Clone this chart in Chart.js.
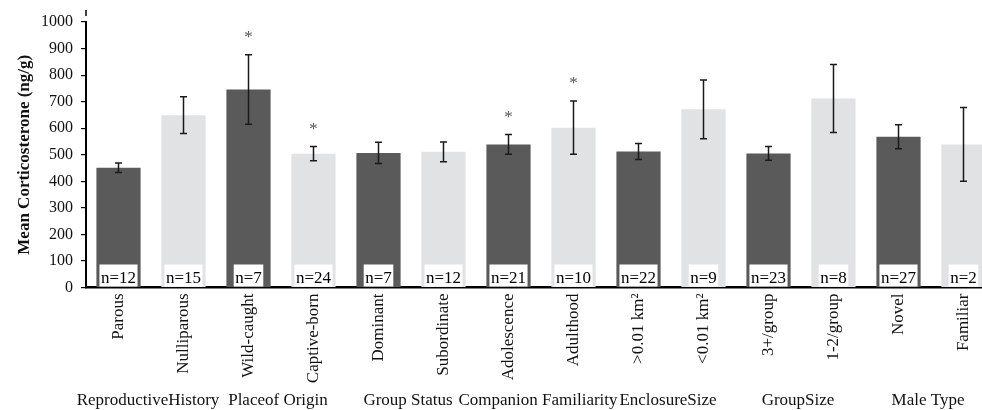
<!DOCTYPE html>
<html>
<head>
<meta charset="utf-8">
<script src="https://cdn.jsdelivr.net/npm/chart.js@4/dist/chart.umd.min.js"></script>
<style>
  html, body { margin: 0; padding: 0; background: #fff; overflow: hidden; }
  #wrap { position: absolute; left: 0; top: 0; width: 1000px; height: 410px; }
</style>
</head>
<body>
<div id="wrap"><canvas id="c" width="1000" height="410"></canvas></div>
<script>
// Mean faecal corticosterone by subgroup
const categories = ['Parous', 'Nulliparous', 'Wild-caught', 'Captive-born', 'Dominant', 'Subordinate',
  'Adolescence', 'Adulthood', '>0.01 km²', '<0.01 km²', '3+/group', '1-2/group', 'Novel', 'Familiar'];
const means = [451, 649, 746, 504, 507, 511, 539, 602, 512, 671, 505, 712, 568, 539];
const errors = [18, 69, 131, 27, 40, 37, 37, 100, 30, 111, 26, 128, 45, 139];
const sampleSizes = [12, 15, 7, 24, 7, 12, 21, 10, 22, 9, 23, 8, 27, 2];
const significant = [false, false, true, true, false, false, true, true, false, false, false, false, false, false];
const groupNames = ['ReproductiveHistory', 'Placeof Origin', 'Group Status', 'Companion Familiarity',
  'EnclosureSize', 'GroupSize', 'Male Type'];
const yTicks = [0, 100, 200, 300, 400, 500, 600, 700, 800, 900, 1000];

const SERIF = '"Liberation Serif", "Times New Roman", serif';
const DARK = '#5a5a5b';
const LIGHT = '#e1e2e4';

// error bars, significance stars, sample-size boxes and group captions
const annotations = {
  id: 'annotations',
  afterDatasetsDraw(chart) {
    const ctx = chart.ctx;
    const y = chart.scales.y;
    const x = chart.scales.x;
    const meta = chart.getDatasetMeta(0);
    ctx.save();
    meta.data.forEach((bar, i) => {
      const cx = bar.x;
      const top = y.getPixelForValue(means[i] + errors[i]);
      const bot = y.getPixelForValue(means[i] - errors[i]);
      ctx.strokeStyle = '#1a1a1a';
      ctx.lineWidth = 1.5;
      ctx.beginPath();
      ctx.moveTo(cx, top); ctx.lineTo(cx, bot);
      ctx.moveTo(cx - 3.5, top); ctx.lineTo(cx + 3.5, top);
      ctx.moveTo(cx - 3.5, bot); ctx.lineTo(cx + 3.5, bot);
      ctx.stroke();

      if (significant[i]) {
        ctx.fillStyle = '#555';
        ctx.font = '17px ' + SERIF;
        ctx.textAlign = 'center';
        ctx.textBaseline = 'alphabetic';
        ctx.fillText('*', cx, top - 13);
      }

      // sample size box at the foot of the bar
      const label = 'n=' + sampleSizes[i];
      ctx.font = '17px ' + SERIF;
      const w = ctx.measureText(label).width + 3;
      const base = y.getPixelForValue(0);
      ctx.fillStyle = '#fff';
      ctx.fillRect(cx - w / 2, base - 23, w, 22);
      ctx.fillStyle = '#000';
      ctx.textAlign = 'center';
      ctx.textBaseline = 'alphabetic';
      ctx.fillText(label, cx, base - 5);
    });

    // short stub of the value axis above its top tick
    const ax = chart.chartArea.left;
    ctx.strokeStyle = '#000';
    ctx.lineWidth = 1.5;
    ctx.beginPath();
    ctx.moveTo(ax, chart.chartArea.top - 12);
    ctx.lineTo(ax, chart.chartArea.top - 6);
    ctx.stroke();

    // group captions centred under each pair of bars
    ctx.fillStyle = '#111';
    ctx.font = '17px ' + SERIF;
    ctx.textAlign = 'center';
    ctx.textBaseline = 'alphabetic';
    groupNames.forEach((g, k) => {
      const cx = (x.getPixelForValue(2 * k) + x.getPixelForValue(2 * k + 1)) / 2;
      ctx.fillText(g, cx - 3, 405);
    });
    ctx.restore();
  }
};

new Chart(document.getElementById('c'), {
  type: 'bar',
  data: {
    labels: categories,
    datasets: [{
      data: means,
      backgroundColor: categories.map((_, i) => (i % 2 === 0 ? DARK : LIGHT)),
      borderWidth: 0,
      barPercentage: 0.68,
      categoryPercentage: 1.0
    }]
  },
  options: {
    responsive: false,
    animation: false,
    devicePixelRatio: 1,
    layout: { padding: { left: 0, right: 4, top: 22, bottom: 0 } },
    plugins: { legend: { display: false }, tooltip: { enabled: false } },
    scales: {
      x: {
        afterFit(scale) { scale.height = 122.5; },
        grid: { display: false, drawTicks: false },
        border: { display: true, color: '#000', width: 2.5 },
        ticks: {
          autoSkip: false,
          minRotation: 90,
          maxRotation: 90,
          padding: 6,
          color: '#111',
          font: { family: SERIF, size: 17 }
        }
      },
      y: {
        min: 0,
        max: 1000,
        afterFit(scale) { scale.width = 86; },
        afterBuildTicks(scale) { scale.ticks = yTicks.map(v => ({ value: v })); },
        grid: { drawOnChartArea: false, drawTicks: true, tickLength: 5, color: '#000', lineWidth: 1.2 },
        border: { display: true, color: '#000', width: 2 },
        ticks: {
          padding: 8,
          color: '#111',
          font: { family: SERIF, size: 16 },
          callback: (v) => String(v)
        },
        title: {
          display: true,
          text: 'Mean Corticosterone (ng/g)',
          color: '#111',
          font: { family: SERIF, size: 17, weight: 'bold' },
          padding: { top: 14, bottom: 0 }
        }
      }
    }
  },
  plugins: [annotations]
});
</script>
</body>
</html>
